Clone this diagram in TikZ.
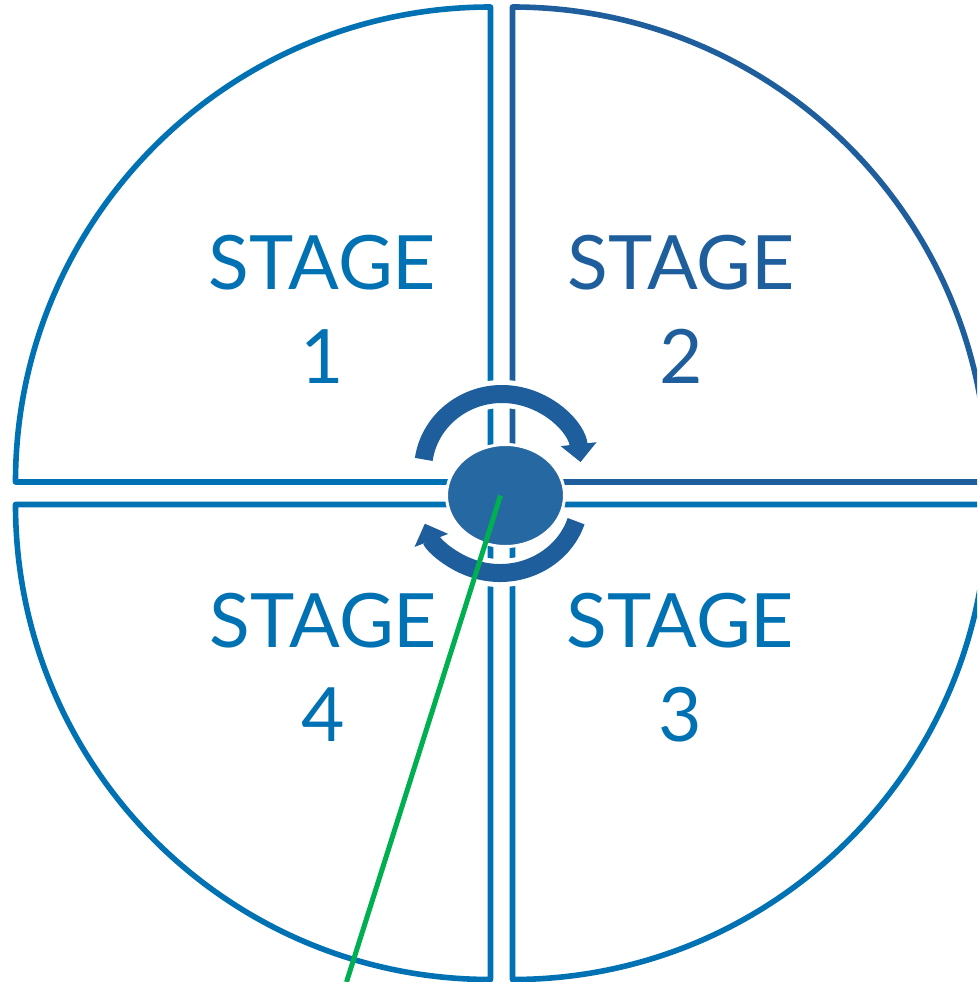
\documentclass[tikz,border=0pt]{standalone}
\usepackage{fontspec}
\setmainfont{Lato}
\usetikzlibrary{arrows.meta,shapes.geometric}
\definecolor{sblu}{HTML}{0071B3}
\definecolor{sdrk}{HTML}{1F5E9C}
\definecolor{shub}{HTML}{2568A2}
\definecolor{sgrn}{HTML}{00B050}
\tikzset{
  sector/.style ={draw=sblu, line width=5.6pt, line join=round},
  dsector/.style={sector, draw=sdrk},
  stage/.style  ={text=sblu, font=\fontsize{75}{94}\selectfont, align=center,
                  inner sep=0pt, anchor=north},
  dstage/.style ={stage, text=sdrk},
  halo/.style   ={draw=white, line width=28pt},
  rot/.style    ={draw=sdrk, line width=18pt, -{Triangle[length=18pt, width=35pt]}},
  hub/.style    ={ellipse, fill=shub, draw=white, line width=3pt, inner sep=0pt,
                  minimum width=118pt, minimum height=102pt},
  pin/.style    ={draw=sgrn, line width=5pt},
}
\begin{document}
\begin{tikzpicture}[x=1pt, y=1pt]
  \useasboundingbox (0,0) rectangle (977,-982);
  \clip (0,0) rectangle (977,-982);
  % quarter sectors, each with its own corner
  \coordinate (q1) at (490.5,-482);
  \coordinate (q2) at (512.5,-482);
  \coordinate (q3) at (512.5,-504.5);
  \coordinate (q4) at (490.5,-504.5);
  \draw[sector]  (q1) -- ++(-475,0) arc[start angle=180, end angle=90, radius=475] -- cycle;
  \draw[dsector] (q2) -- ++(0,475) arc[start angle=90, end angle=0, radius=475] -- cycle;
  \draw[sector]  (q3) -- ++(475,0) arc[start angle=0, end angle=-90, radius=475] -- cycle;
  \draw[sector]  (q4) -- ++(0,-475) arc[start angle=-90, end angle=-180, radius=475] -- cycle;
  % labels
  \node[stage]  (s1) at (322.5,-235) {STAGE\\1};
  \node[dstage] (s2) at (681,-235)   {STAGE\\2};
  \node[stage]  (s3) at (680.5,-593) {STAGE\\3};
  \node[stage]  (s4) at (323.5,-593) {STAGE\\4};
  % rotation arrows
  \coordinate (up) at (502,-470);
  \coordinate (lo) at (500,-498);
  \draw[halo] ([shift={(130:79 and 76)}]up) arc[start angle=130, end angle=50, x radius=79, y radius=76];
  \draw[halo] ([shift={(-50:80 and 75)}]lo) arc[start angle=-50, end angle=-130, x radius=80, y radius=75];
  \draw[rot] ([shift={(172:79 and 76)}]up) arc[start angle=172, end angle=6, x radius=79, y radius=76];
  \draw[rot] ([shift={(-18:80 and 75)}]lo) arc[start angle=-18, end angle=-160, x radius=80, y radius=75];
  % hub and pointer
  \node[hub] (hub) at (505.5,-495.5) {};
  \coordinate (tip) at (346.5,-982);
  \draw[pin] ([xshift=-5pt]hub.center) -- (tip);
\end{tikzpicture}
\end{document}
